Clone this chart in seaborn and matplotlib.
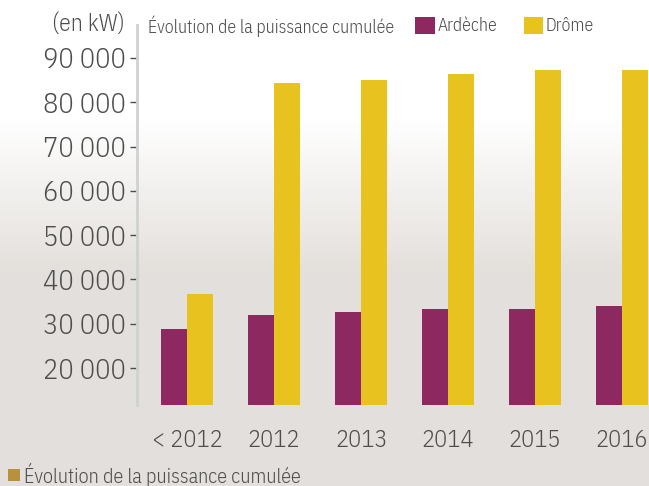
import numpy as np
import pandas as pd
import seaborn as sns
import matplotlib.pyplot as plt
from matplotlib.ticker import FuncFormatter
from matplotlib.patches import Patch

categories = ['< 2012', '2012', '2013', '2014', '2015', '2016']
ardeche = [28800, 32000, 32650, 33300, 33300, 34000]
drome = [36700, 84350, 85000, 86400, 87300, 87300]
series = ['Ardèche', 'Drôme']
colors = ['#8e2861', '#e8c31f']

df = pd.DataFrame({
    'annee': categories * 2,
    'serie': [series[0]] * len(categories) + [series[1]] * len(categories),
    'kw': ardeche + drome,
})

sns.set_style('white')
plt.rcParams['font.family'] = ['IBM Plex Sans Condensed', 'DejaVu Sans']
plt.rcParams['font.weight'] = 300
txt = '#4d4d4d'

fig = plt.figure(figsize=(6.49, 4.86), dpi=100)

# background gradient: white at top, warm grey lower down
bg = fig.add_axes([0, 0, 1, 1], zorder=-10)
grad = np.ones((486, 1, 3))
top = np.array([1.0, 1.0, 1.0])
bot = np.array([0.894, 0.878, 0.863])
for i in range(486):
    t = np.clip((i - 120) / 150, 0, 1)
    grad[i, 0] = top * (1 - t) + bot * t
bg.imshow(grad, aspect='auto', extent=[0, 1, 0, 1], origin='upper')
bg.axis('off')

ax = fig.add_axes([137 / 649, 1 - 405 / 486, 1 - 137 / 649, (405 - 25) / 486])
ax.patch.set_alpha(0)
sns.barplot(data=df, x='annee', y='kw', hue='serie', palette=colors,
            width=0.6, gap=0, saturation=1, ax=ax, legend=False,
            edgecolor='none')

ax.set_ylim(11650, 97450)
ax.set_xlim(-0.575, 5.31)
ax.set_yticks(range(20000, 90001, 10000))
ax.yaxis.set_major_formatter(FuncFormatter(lambda v, p: f'{int(v):,}'.replace(',', ' ')))
ax.set_xlabel('')
ax.set_ylabel('')
for s in ['top', 'right', 'bottom']:
    ax.spines[s].set_visible(False)
ax.spines['left'].set_color('#cfd2d2')
ax.spines['left'].set_linewidth(2)
ax.tick_params(axis='y', which='major', left=True, length=5, width=1, color=txt,
               labelsize=20.5, labelcolor=txt, pad=3)
ax.tick_params(axis='x', bottom=False, labelsize=17.5, labelcolor=txt, pad=14)

fig.text(125 / 649, 1 - 25 / 486, '(en kW)', ha='right', va='center', fontsize=17, color=txt)
fig.text(148 / 649, 1 - 26 / 486, 'Évolution de la puissance cumulée', ha='left', va='center',
         fontsize=12.8, color=txt)
handles = [Patch(facecolor=c, edgecolor='none') for c in colors]
fig.legend(handles, series, loc='center left', bbox_to_anchor=(415 / 649, 1 - 26 / 486),
           ncol=2, frameon=False, fontsize=12.8, labelcolor=txt, handlelength=1.1,
           handleheight=1.1, handletextpad=0.15, columnspacing=1.5, borderpad=0,
           borderaxespad=0)

fig.patches.append(plt.Rectangle((8 / 649, 1 - 481 / 486), 12 / 649, 12 / 486,
                                 transform=fig.transFigure, facecolor='#b8913e',
                                 edgecolor='none'))
fig.text(24 / 649, 1 - 475 / 486, 'Évolution de la puissance cumulée', ha='left', va='center',
         fontsize=14.5, color=txt)

fig.savefig('out.png', dpi=100)
